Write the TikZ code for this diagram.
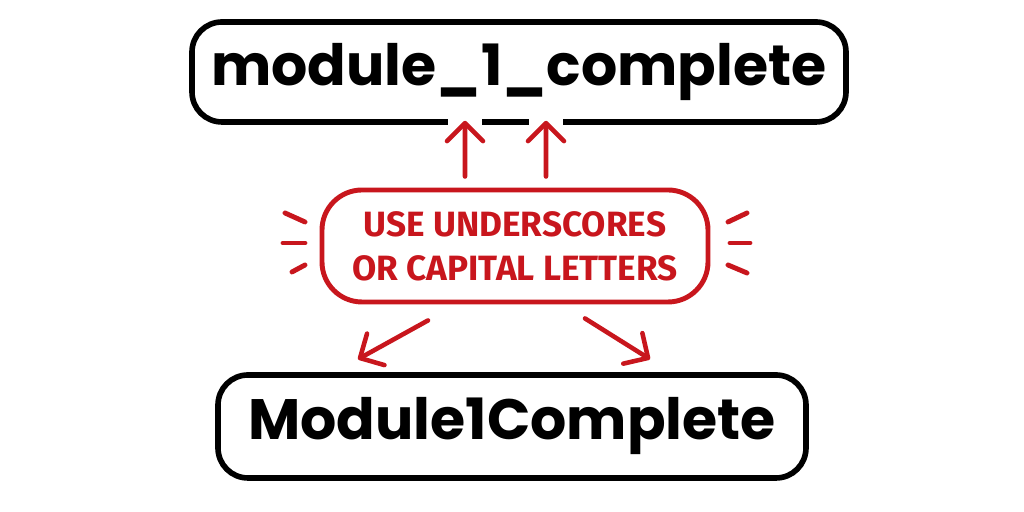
\documentclass[tikz,border=0pt]{standalone}
\usepackage{fontspec}
\setmainfont{Poppins}
\newfontfamily\namefont{Poppins}
\newfontfamily\notefont{Fira Sans}
\usetikzlibrary{arrows.meta,positioning}
\definecolor{notered}{HTML}{C8161D}
\tikzset{
  namebox/.style={draw=black,line width=1.6pt,rounded corners=3mm,inner sep=0pt,
    font=\namefont\fontsize{16.2}{20}\selectfont\bfseries},
  notebox/.style={draw=notered,text=notered,line width=1.4pt,rounded corners=4mm,
    minimum width=3.86cm,minimum height=1.12cm,align=center,
    font=\notefont\fontsize{10}{12.5}\selectfont\bfseries},
  notearrow/.style={notered,line width=1.3pt,line cap=round,
    -{Straight Barb[round,length=1.8mm,width=3.6mm]}},
  burst/.style={notered,line width=1.4pt,line cap=round}
}
\begin{document}
\begin{tikzpicture}
\useasboundingbox (0,0) rectangle (10.24,5.12);
%boxes
\node[namebox,minimum width=6.54cm,minimum height=1cm] (under) at (5.19,4.40) {module\_1\_complete};
\node[notebox] (tip) at (5.15,2.66) {USE UNDERSCORES\\OR CAPITAL LETTERS};
\node[namebox,minimum width=5.88cm,minimum height=1.03cm] (camel) at (5.12,0.855) {Module1Complete};
%gaps in the border where the arrows come in
\fill[white] (4.48,3.82) rectangle (4.82,3.98);
\fill[white] (5.29,3.82) rectangle (5.63,3.98);
%arrows up
\draw[notearrow] ([xshift=-0.5cm,yshift=0.11cm]tip.north) -- ([xshift=-0.54cm,yshift=0.04cm]under.south);
\draw[notearrow] ([xshift=0.31cm,yshift=0.11cm]tip.north) -- ([xshift=0.27cm,yshift=0.04cm]under.south);
%arrows down
\draw[notearrow] ([xshift=-0.87cm,yshift=-0.16cm]tip.south) -- ([xshift=-1.54cm,yshift=0.13cm]camel.north);
\draw[notearrow] ([xshift=0.70cm,yshift=-0.14cm]tip.south) -- ([xshift=1.38cm,yshift=0.13cm]camel.north);
%burst marks
\foreach \a/\b/\c/\d in {2.85/2.99/3.05/2.90, 2.83/2.69/3.05/2.69, 2.92/2.40/3.05/2.47,
  7.28/2.90/7.47/2.99, 7.30/2.69/7.50/2.69, 7.28/2.47/7.47/2.39}{
\draw[burst] (\a,\b) -- (\c,\d);
}
\end{tikzpicture}
\end{document}
